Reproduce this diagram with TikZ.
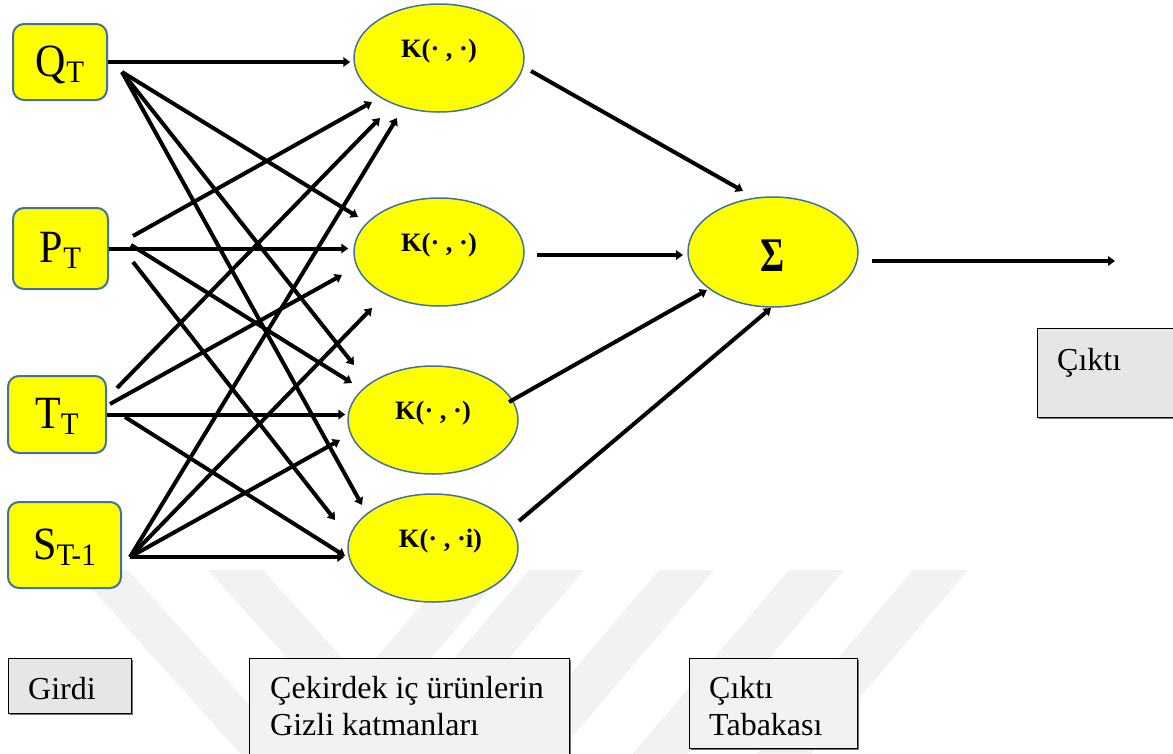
\documentclass[tikz,border=0pt]{standalone}
\usepackage{fontspec}
\setmainfont{Liberation Serif}
\usetikzlibrary{arrows.meta,shapes.geometric,shadows}
\definecolor{kyellow}{RGB}{255,255,0}
\definecolor{kborder}{RGB}{65,113,156}
\definecolor{boxgrey}{RGB}{230,230,230}
\definecolor{boxlight}{RGB}{242,242,242}
\definecolor{wmark}{RGB}{242,242,242}
\newcommand{\insub}[1]{\raisebox{-6pt}{\fontsize{29}{29}\selectfont\scalebox{1}[1.08]{#1}}}
\newcommand{\inmain}[1]{\scalebox{1}[1.1]{#1}}
\begin{document}
\begin{tikzpicture}[x=1pt,y=-1pt,
  inbox/.style={draw=kborder, fill=kyellow, line width=2pt, rounded corners=11pt,
    inner sep=0pt, text height=28pt, text depth=0pt, font=\fontsize{42}{44}\selectfont},
  kern/.style={ellipse, draw=kborder, fill=kyellow, line width=1.5pt,
    minimum width=170pt, minimum height=108pt, inner sep=0pt,
    font=\bfseries\fontsize{26.5}{28}\selectfont, text height=10pt, text depth=12pt},
  arr/.style={line width=4pt, -{Triangle[length=7pt,width=9.5pt]}},
  gbox/.style={draw=black, line width=1.2pt, fill=boxgrey, inner sep=0pt, anchor=north west,
    drop shadow={shadow xshift=1.5pt, shadow yshift=-1.5pt, fill=black!55, opacity=1}},
  lbox/.style={gbox, fill=boxlight},
  lbl/.style={anchor=base west, inner sep=0pt, font=\fontsize{32}{37}\selectfont},
  band/.style={fill=wmark, draw=none}
]
\useasboundingbox (0,0) rectangle (1173,753);
\clip (0,0) rectangle (1173,753);
\fill[white] (0,0) rectangle (1173,753);

% watermark bands
\fill[band] (75,570) -- (128,570) -- (299,760) -- (246,760) -- cycle;
\fill[band] (208,570) -- (263,570) -- (434,760) -- (379,760) -- cycle;
\fill[band] (451,570) -- (506,570) -- (344.5,760) -- (289.5,760) -- cycle;
\fill[band] (529,570) -- (584,570) -- (422.5,760) -- (367.5,760) -- cycle;
\fill[band] (659,570) -- (714,570) -- (552.5,760) -- (497.5,760) -- cycle;
\fill[band] (789,570) -- (844,570) -- (682.5,760) -- (627.5,760) -- cycle;
\fill[band] (913,570) -- (968,570) -- (806.5,760) -- (751.5,760) -- cycle;

% input nodes
\node[inbox, minimum width=94pt, minimum height=76pt] (q) at (60,62) {\inmain{Q}\insub{T}};
\node[inbox, minimum width=95pt, minimum height=81pt] (p) at (60.5,248.5) {\inmain{P}\insub{T}};
\node[inbox, minimum width=98pt, minimum height=77pt] (t) at (57,414.5) {\inmain{T}\insub{T}};
\node[inbox, minimum width=113pt, minimum height=86pt] (s) at (64.5,545) {\inmain{S}\insub{T-1}};

% kernel nodes
\node[kern] (k1) at (439,58) {K(· , ·)};
\node[kern] (k2) at (439,252) {K(· , ·)};
\node[kern] (k3) at (433,420) {K(· , ·)};
\node[kern] (k4) at (433,548) {\hspace*{15pt}K(· , ·i)};
\node[kern, minimum height=110pt, font=\bfseries\fontsize{46}{48}\selectfont, text height=39pt, text depth=0pt]
  (sig) at (773,252) {\scalebox{0.8}[1.05]{Σ}};

% fan origins
\coordinate (qf) at (122,72);
\coordinate (pf1) at (133,236);
\coordinate (pf2) at (131,245);
\coordinate (pf3) at (133,262);
\coordinate (tf1) at (117,388);
\coordinate (tf2) at (110,404);
\coordinate (tf3) at (125,417);
\coordinate (sf) at (130,557);
% arrow tips
\coordinate (q2) at (358,217);
\coordinate (q3) at (354,365);
\coordinate (q4) at (362,505);
\coordinate (p1) at (372,102);
\coordinate (p3) at (352,383);
\coordinate (p4) at (335,520);
\coordinate (t1) at (380,118);
\coordinate (t2) at (342,275);
\coordinate (t4) at (345,556);
\coordinate (s1) at (397,118);
\coordinate (s2) at (372,308);
\coordinate (s3) at (340,440);

% straight input arrows
\draw[arr, shorten >=3pt] (q.east) -- (q.east -| k1.west);
\draw[arr, shorten >=5pt] (p.east) -- (p.east -| k2.west);
\draw[arr, shorten >=2pt] (t.east) -- (t.east -| k3.west);
\draw[arr, shorten >=3pt] (sf) -- (sf -| k4.west);
% fan arrows
\draw[arr] (qf) -- (q2);
\draw[arr] (qf) -- (q3);
\draw[arr] (qf) -- (q4);
\draw[arr] (pf1) -- (p1);
\draw[arr] (pf2) -- (p3);
\draw[arr] (pf3) -- (p4);
\draw[arr] (tf1) -- (t1);
\draw[arr] (tf2) -- (t2);
\draw[arr] (tf3) -- (t4);
\draw[arr] (sf) -- (s1);
\draw[arr] (sf) -- (s2);
\draw[arr] (sf) -- (s3);

% kernel to sum
\coordinate (k1o) at (531,71);
\coordinate (k2o) at (537,255);
\coordinate (k3o) at (509,402);
\coordinate (k4o) at (519,521);
\coordinate (sg1) at (743,191);
\coordinate (sg2) at (683,255);
\coordinate (sg3) at (707,290);
\coordinate (sg4) at (771,308);
\draw[arr] (k1o) -- (sg1);
\draw[arr] (k2o) -- (sg2);
\draw[arr] (k3o) -- (sg3);
\draw[arr] (k4o) -- (sg4);
\coordinate (so) at (872,261);
\coordinate (out) at (1115,261);
\draw[arr] (so) -- (out);

% label boxes
\node[gbox, minimum width=150pt, minimum height=89pt] (cbox) at (1037,328) {};
\node[lbl] (ctext) at (1057,370) {Çıktı};
\node[gbox, minimum width=123pt, minimum height=55pt] (gbx) at (8,658) {};
\node[lbl] (gtext) at (28,699) {Girdi};
\node[lbox, minimum width=320pt, minimum height=110pt] (kbx) at (249,658) {};
\node[lbl] (ktext1) at (270,698) {Çekirdek iç ürünlerin};
\node[lbl] (ktext2) at (270,735) {Gizli katmanları};
\node[lbox, minimum width=168pt, minimum height=90pt] (tbx) at (689,658) {};
\node[lbl] (ttext1) at (709,698) {Çıktı};
\node[lbl] (ttext2) at (709,735) {Tabakası};
\end{tikzpicture}
\end{document}
